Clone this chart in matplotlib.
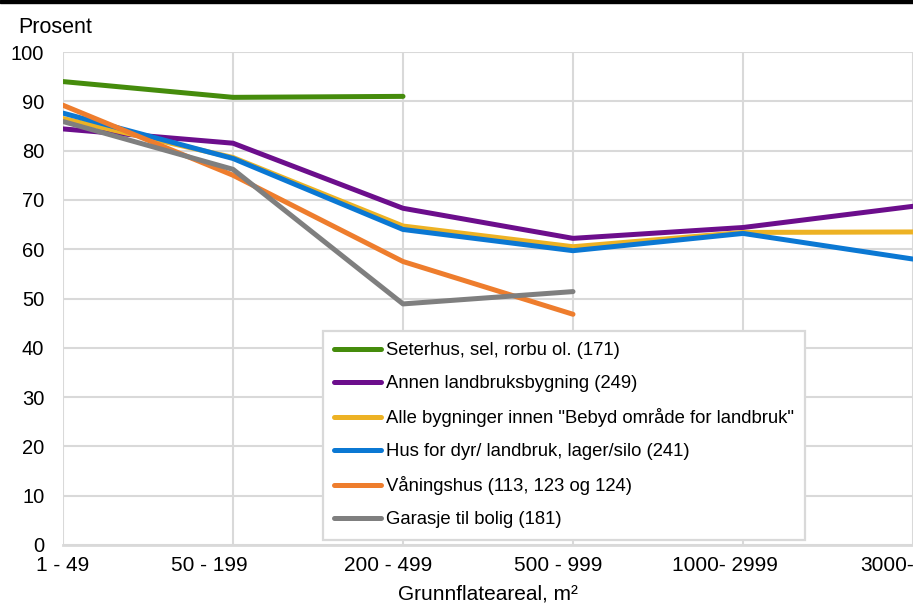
import numpy as np
import matplotlib
matplotlib.use("Agg")
import matplotlib.pyplot as plt
from matplotlib.patches import Rectangle
from matplotlib.transforms import ScaledTranslation

plt.rcParams["font.family"] = ["Liberation Sans", "DejaVu Sans"]

# data
kategorier = ["1 - 49", "50 - 199", "200 - 499", "500 - 999", "1000- 2999", "3000-"]
seterhus = [94.0, 90.8, 91.0, np.nan, np.nan, np.nan]
annen_landbruk = [84.4, 81.5, 68.3, 62.2, 64.4, 68.7]
alle_landbruk = [86.5, 78.6, 64.7, 60.5, 63.4, 63.5]
hus_dyr = [87.6, 78.4, 64.0, 59.7, 63.2, 58.0]
vaaningshus = [89.2, 75.0, 57.5, 46.8, np.nan, np.nan]
garasje = [85.9, 76.2, 48.9, 51.4, np.nan, np.nan]

navn = ["Seterhus, sel, rorbu ol. (171)",
        "Annen landbruksbygning (249)",
        "Alle bygninger innen \"Bebyd område for landbruk\"",
        "Hus for dyr/ landbruk, lager/silo (241)",
        "Våningshus (113, 123 og 124)",
        "Garasje til bolig (181)"]
serier = [seterhus, annen_landbruk, alle_landbruk, hus_dyr, vaaningshus, garasje]
farger = ["#458C0C", "#6C0E8C", "#EDB224", "#0B78D3", "#EE7D2D", "#7F7F7F"]

W, H = 913, 606
fig = plt.figure(figsize=(W / 100, H / 100), dpi=100)
ax = fig.add_axes([63 / W, (H - 545) / H, (913 - 63) / W, (545 - 52) / H])

x = np.arange(len(kategorier))
for y, c, n in zip(serier, farger, navn):
    ax.plot(x, y, color=c, lw=3.6, label=n, solid_capstyle="round", solid_joinstyle="round", zorder=3)

ax.set_xlim(0, (913 - 63) / 170.5)
ax.set_ylim(0, 100)
ax.set_xticks(x)
ax.set_xticklabels(kategorier, fontsize=15)
ax.set_yticks(np.arange(0, 101, 10))
ax.tick_params(axis="y", length=0, pad=13.5, labelsize=14.5)
ax.tick_params(axis="x", length=0, pad=8)
# the category labels sit a bit left of their gridlines in the reference
skift = [0, -24, -15, -15, -18, -26]
for lab, dx in zip(ax.get_xticklabels(), skift):
    lab.set_transform(lab.get_transform() + ScaledTranslation(dx / 100, 0, fig.dpi_scale_trans))
ax.grid(True, color="#D9D9D9", lw=1.5, zorder=0)
for s in ["top", "right", "left"]:
    ax.spines[s].set_visible(False)
ax.spines["bottom"].set_color("#D9D9D9")
ax.spines["bottom"].set_linewidth(2)
ax.set_xlabel("Grunnflateareal, m²", fontsize=15, labelpad=7)

fig.text(18 / W, 1 - 33 / H, "Prosent", fontsize=15.5, va="baseline", ha="left")
fig.patches.append(Rectangle((0, 1 - 3 / H), 1, 3 / H, transform=fig.transFigure, color="black", zorder=10))

leg = ax.legend(loc="upper left", bbox_to_anchor=(323 / W, 1 - 331 / H), bbox_transform=fig.transFigure,
                borderaxespad=0, fontsize=13.3, handlelength=2.55, handletextpad=0.25,
                labelspacing=0.87, borderpad=0.6, fancybox=False, framealpha=1)
leg.get_frame().set_edgecolor("#D9D9D9")
leg.get_frame().set_linewidth(1.6)

fig.savefig("out.png", dpi=100)
